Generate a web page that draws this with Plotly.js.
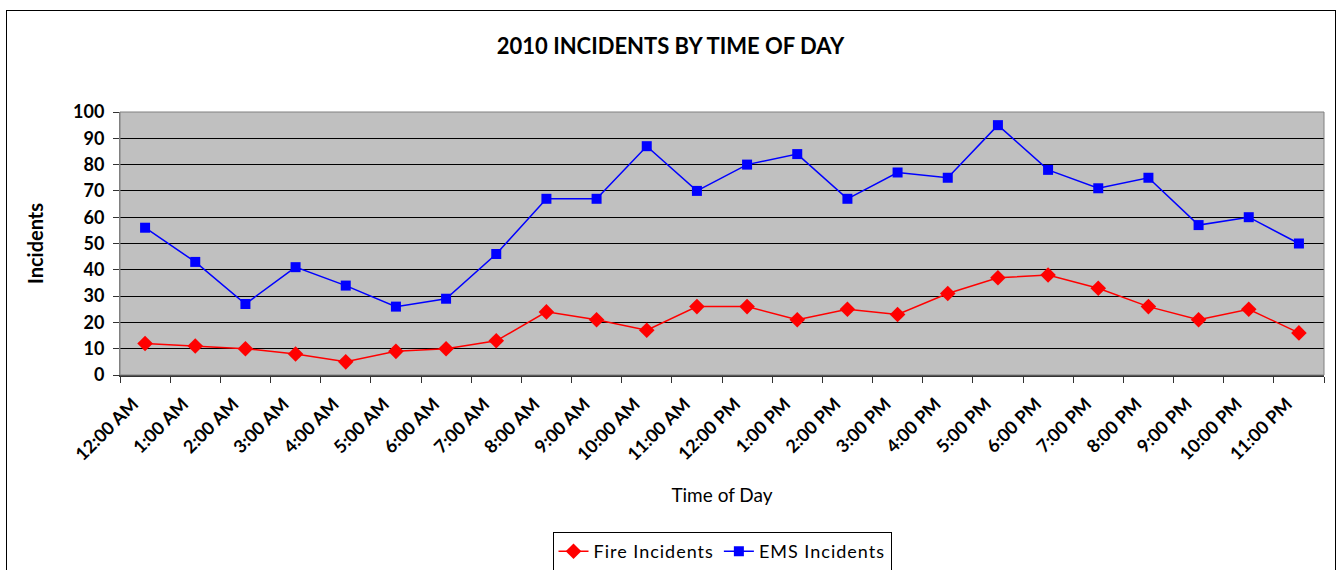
<!DOCTYPE html>
<html>
<head>
<meta charset="utf-8">
<script src="https://cdn.plot.ly/plotly-3.0.1.min.js"></script>
<style>
html,body{margin:0;padding:0;background:#fff;}
#wrap{position:relative;width:1341px;height:570px;overflow:hidden;}
#chart{width:1341px;height:600px;}
#frame{position:absolute;left:6px;top:10px;width:1330px;height:600px;border:1px solid #000;pointer-events:none;box-sizing:border-box;}
.legendtext{letter-spacing:1px;}
</style>
</head>
<body>
<div id="wrap"><div id="chart"></div><div id="frame"></div></div>
<script>
const hours = ["12:00 AM","1:00 AM","2:00 AM","3:00 AM","4:00 AM","5:00 AM","6:00 AM","7:00 AM","8:00 AM","9:00 AM","10:00 AM","11:00 AM",
  "12:00 PM","1:00 PM","2:00 PM","3:00 PM","4:00 PM","5:00 PM","6:00 PM","7:00 PM","8:00 PM","9:00 PM","10:00 PM","11:00 PM"];
const fireIncidents = [12,11,10,8,5,9,10,13,24,21,17,26,26,21,25,23,31,37,38,33,26,21,25,16];
const emsIncidents = [56,43,27,41,34,26,29,46,67,67,87,70,80,84,67,77,75,95,78,71,75,57,60,50];
const yTicks = [0,10,20,30,40,50,60,70,80,90,100];

const FONT = "Lato, 'Open Sans', sans-serif";
const H = 600;

const traces = [
  {x: hours, y: fireIncidents, name: "Fire Incidents", type: "scatter", mode: "lines+markers",
   line: {color: "#FF0000", width: 1.5}, marker: {symbol: "diamond", size: 12, color: "#FF0000"}},
  {x: hours, y: emsIncidents, name: "EMS Incidents", type: "scatter", mode: "lines+markers",
   line: {color: "#0000FF", width: 1.5}, marker: {symbol: "square", size: 10, color: "#0000FF"}}
];

const layout = {
  width: 1341, height: H,
  margin: {l: 120, r: 17, t: 112, b: H - 375},
  paper_bgcolor: "#FFFFFF",
  plot_bgcolor: "#C0C0C0",
  font: {family: FONT, color: "#000"},
  showlegend: true,
  title: {text: "<b>2010 INCIDENTS BY TIME OF DAY</b>", font: {size: 22, family: FONT, color: "#000"},
          x: 0.5, xref: "container", xanchor: "center", y: 1 - 46/H, yref: "container", yanchor: "middle"},
  xaxis: {
    type: "category", categoryorder: "array", categoryarray: hours,
    range: [-0.5, 23.5], tickangle: -45,
    tickfont: {size: 18, family: FONT, color: "#000", weight: "bold"},
    ticks: "outside", ticklen: 6, tickcolor: "#333", tickson: "boundaries",
    ticklabelstandoff: 10, ticklabelshift: -12,
    showgrid: false, showline: true, linecolor: "#333", linewidth: 1.5, mirror: false,
    title: {text: "Time of Day", font: {size: 19, family: FONT, color: "#000"}, standoff: 25},
    automargin: false, fixedrange: true
  },
  yaxis: {
    range: [0, 100], tickvals: yTicks, ticktext: yTicks.map(String),
    tickfont: {size: 18, family: FONT, color: "#000", weight: "bold"},
    ticks: "outside", ticklen: 6, tickcolor: "#333", ticklabelstandoff: 5,
    showgrid: true, gridcolor: "#000", gridwidth: 1, zeroline: false,
    showline: true, linecolor: "#808080", linewidth: 1,
    title: {text: "<b>Incidents</b>", font: {size: 20, family: FONT, color: "#000"}, standoff: 24},
    automargin: false, fixedrange: true
  },
  legend: {orientation: "h", x: 0.5, xanchor: "center", y: -157/263, yanchor: "top",
           bordercolor: "#000", borderwidth: 1, bgcolor: "#FFF",
           font: {size: 18, family: FONT, color: "#000"}},
  shapes: [
    {type: "rect", xref: "paper", yref: "paper", x0: 0, x1: 1, y0: 0, y1: 1,
     line: {color: "#808080", width: 1}, fillcolor: "rgba(0,0,0,0)", layer: "above"}
  ]
};

Plotly.newPlot("chart", traces, layout, {staticPlot: true, displayModeBar: false});
</script>
</body>
</html>
